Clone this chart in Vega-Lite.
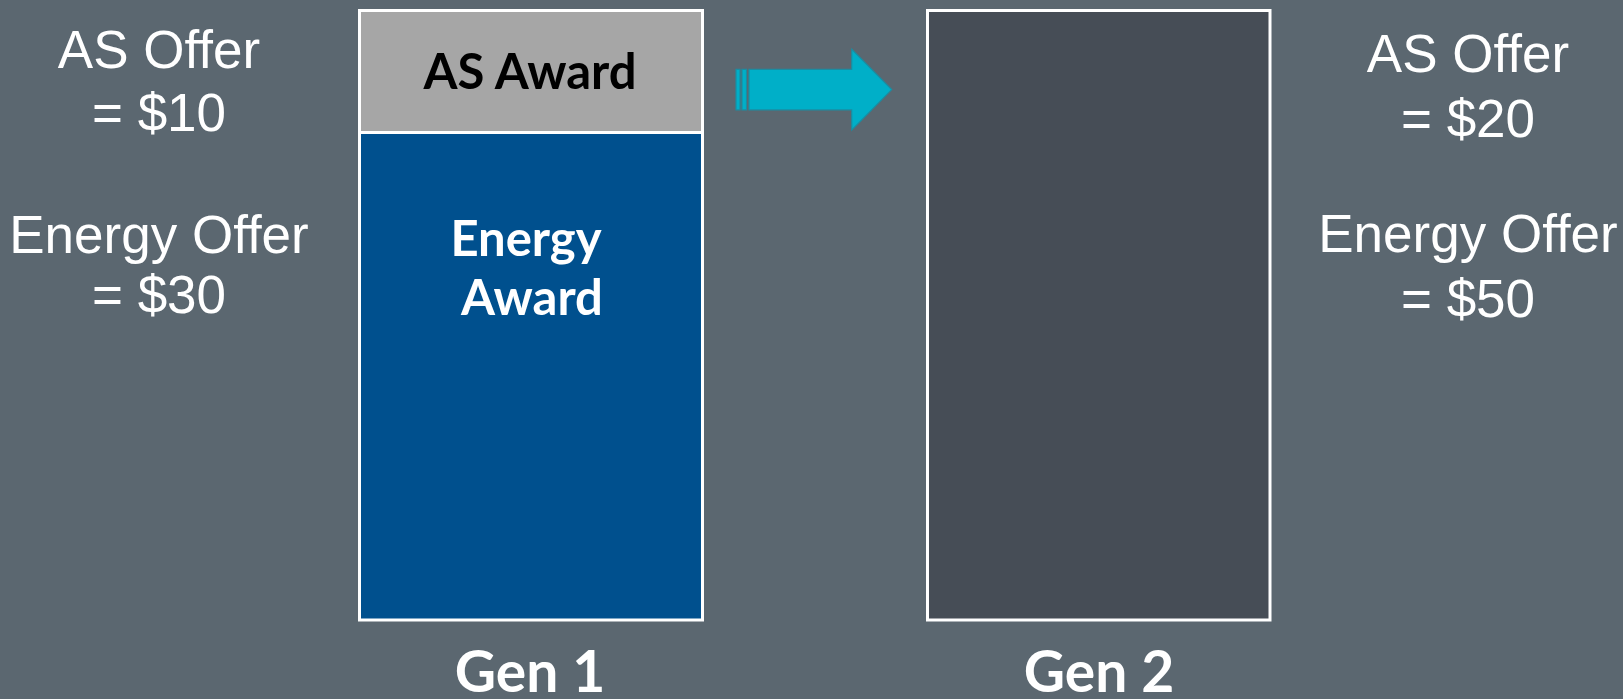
{
  "$schema": "https://vega.github.io/schema/vega-lite/v6.json",
  "width": 1623,
  "height": 699,
  "autosize": {"type": "none"},
  "padding": 0,
  "background": "#5B6770",
  "config": {"view": {"stroke": null}, "axis": {"disable": true}},
  "datasets": {
    "bars": [
      {"gen": "Gen 1", "part": "Energy Award", "x0": 359.5, "x1": 702.5, "mw0": 0, "mw1": 80},
      {"gen": "Gen 1", "part": "AS Award", "x0": 359.5, "x1": 702.5, "mw0": 80, "mw1": 100},
      {"gen": "Gen 2", "part": "Unawarded", "x0": 927.5, "x1": 1270, "mw0": 0, "mw1": 100}
    ],
    "arrow": [
      {"px": 749, "top": 90.35, "bot": 83.68},
      {"px": 851.7, "top": 90.35, "bot": 83.68},
      {"px": 851.8, "top": 93.63, "bot": 80.39},
      {"px": 891.7, "top": 87.02, "bot": 87.02}
    ],
    "stripes": [
      {"x0": 736, "x1": 740, "top": 90.35, "bot": 83.68},
      {"x0": 742, "x1": 746.5, "top": 90.35, "bot": 83.68}
    ],
    "offers": [
      {"px": 159, "mw": 90.57, "label": "AS Offer"},
      {"px": 159, "mw": 80.2, "label": "= $10"},
      {"px": 159, "mw": 60.2, "label": "Energy Offer"},
      {"px": 159, "mw": 50.4, "label": "= $30"},
      {"px": 1468, "mw": 89.9, "label": "AS Offer"},
      {"px": 1468, "mw": 79.2, "label": "= $20"},
      {"px": 1468, "mw": 60.3, "label": "Energy Offer"},
      {"px": 1468, "mw": 49.7, "label": "= $50"}
    ],
    "awardLabels": [
      {"px": 530, "mw": 87.07, "label": "AS Award", "color": "black"},
      {"px": 526, "mw": 59.8, "label": "Energy", "color": "white"},
      {"px": 532, "mw": 50.1, "label": "Award", "color": "white"}
    ],
    "genLabels": [
      {"px": 530, "mw": -11.8, "label": "Gen 1"},
      {"px": 1099, "mw": -11.8, "label": "Gen 2"}
    ]
  },
  "layer": [
    {
      "data": {"name": "bars"},
      "mark": {"type": "rect", "stroke": "white", "strokeWidth": 3},
      "encoding": {
        "x": {"field": "x0", "type": "quantitative", "scale": {"domain": [0, 1623], "nice": false, "zero": false}, "axis": null},
        "x2": {"field": "x1"},
        "y": {"field": "mw0", "type": "quantitative", "scale": {"domain": [-12.96, 101.72], "nice": false, "zero": false}, "axis": null},
        "y2": {"field": "mw1"},
        "color": {
          "field": "part", "type": "nominal", "legend": null,
          "scale": {"domain": ["Energy Award", "AS Award", "Unawarded"], "range": ["#00508E", "#A6A6A6", "#464D56"]}
        }
      }
    },
    {
      "data": {"name": "arrow"},
      "mark": {"type": "area", "color": "#00AFC8", "stroke": "#1A8DA2", "strokeWidth": 1.2, "orient": "vertical"},
      "encoding": {
        "x": {"field": "px", "type": "quantitative"},
        "y": {"field": "top", "type": "quantitative"},
        "y2": {"field": "bot"}
      }
    },
    {
      "data": {"name": "stripes"},
      "mark": {"type": "rect", "color": "#00AFC8", "stroke": "#1A8DA2", "strokeWidth": 1.2},
      "encoding": {
        "x": {"field": "x0", "type": "quantitative"},
        "x2": {"field": "x1"},
        "y": {"field": "top", "type": "quantitative"},
        "y2": {"field": "bot"}
      }
    },
    {
      "data": {"name": "offers"},
      "mark": {"type": "text", "font": "Liberation Sans", "fontSize": 53, "color": "white", "align": "center", "baseline": "alphabetic"},
      "encoding": {
        "x": {"field": "px", "type": "quantitative"},
        "y": {"field": "mw", "type": "quantitative"},
        "text": {"field": "label"}
      }
    },
    {
      "data": {"name": "awardLabels"},
      "mark": {"type": "text", "font": "Lato", "fontWeight": "bold", "fontSize": 49, "align": "center", "baseline": "alphabetic"},
      "encoding": {
        "x": {"field": "px", "type": "quantitative"},
        "y": {"field": "mw", "type": "quantitative"},
        "text": {"field": "label"},
        "color": {"field": "color", "type": "nominal", "scale": null, "legend": null}
      }
    },
    {
      "data": {"name": "genLabels"},
      "mark": {"type": "text", "font": "Lato", "fontWeight": "bold", "fontSize": 57, "color": "white", "align": "center", "baseline": "alphabetic"},
      "encoding": {
        "x": {"field": "px", "type": "quantitative"},
        "y": {"field": "mw", "type": "quantitative"},
        "text": {"field": "label"}
      }
    }
  ]
}
